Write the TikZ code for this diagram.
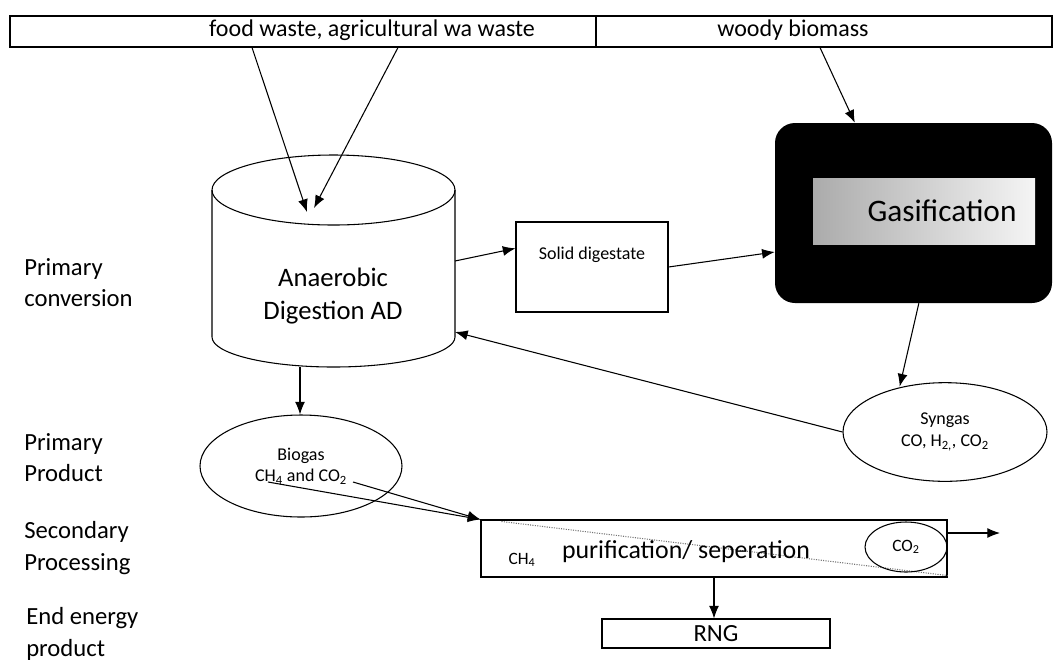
\documentclass[tikz,border=0pt]{standalone}
\usepackage{fontspec}
\setmainfont{Carlito}
\usetikzlibrary{arrows.meta,shapes.geometric}

\begin{document}
\begin{tikzpicture}[x=0.75pt,y=-0.75pt]
      \tikzstyle{flow} = [thick,-{Latex[length=9.5pt,width=7.5pt]},draw=black]
      \tikzstyle{box} = [draw=black,thick,rectangle,inner sep=0pt]
      \tikzstyle{gasnode} = [draw=black,thick,ellipse,inner sep=0pt,align=center,font=\fontsize{13.5}{16}\selectfont]
      \tikzstyle{side} = [anchor=west,align=left,inner sep=0pt,font=\fontsize{18.5}{23.5}\selectfont]
      \tikzstyle{small} = [inner sep=0pt,font=\fontsize{13.5}{16}\selectfont]
      \useasboundingbox (0,0) rectangle (1053,662);

      % feedstock bar
      \node[box,minimum width=439.5pt,minimum height=23.25pt] (feedA) at (303,31.5) {};
      \node[box,minimum width=342pt,minimum height=23.25pt] (feedB) at (824,31.5) {};
      \node[font=\fontsize{18}{22}\selectfont] (foodtxt) at (372,30) {food waste, agricultural wa waste};
      \node[font=\fontsize{18}{22}\selectfont] (woodtxt) at (793,30) {woody biomass};

      % stage labels
      \node[side] (lblconv) at (24,282.5) {Primary\\conversion};
      \node[side] (lblprod) at (24,457.5) {Primary\\Product};
      \node[side] (lblsec) at (24,548) {Secondary\\Processing};
      \node[side] (lblend) at (26,634) {End energy\\product};

      % digester
      \draw[thick] (212,190) -- (212,337) arc[start angle=180,end angle=360,x radius=91.125pt,y radius=22.5pt] -- (455,190);
      \draw[thick] (333.5,190) ellipse [x radius=91.125pt,y radius=26.25pt];
      \node[align=center,font=\fontsize{20}{25}\selectfont] (ad) at (333,296) {Anaerobic\\Digestion AD};
      \coordinate (adinA) at (307,212);
      \coordinate (adinB) at (314,208);
      \coordinate (adR) at (455,261);
      \coordinate (adR2) at (455,332);
      \coordinate (adB) at (300,367);

      \node[box,minimum width=114pt,minimum height=67.5pt] (dig) at (592,267) {};
      \node[small] (digtxt) at (592,255) {Solid digestate};

      % gasifier
      \node[fill=black,rounded corners=15pt,minimum width=207.75pt,minimum height=135pt,inner sep=0pt] (gasbox) at (913.5,213) {};
      \node[left color=black!33,right color=black!4,minimum width=166.5pt,minimum height=49.5pt,inner sep=0pt] (gasfill) at (924,211) {};
      \node[font=\fontsize{23.5}{28}\selectfont] (gastxt) at (942,211) {Gasification};

      \node[gasnode,minimum width=153pt,minimum height=74pt] (syn) at (945,432) {Syngas\\CO, H\textsubscript{2,}, CO\textsubscript{2}};
      \node[gasnode,minimum width=151.5pt,minimum height=76.5pt] (bio) at (301,466) {Biogas\\CH\textsubscript{4} and CO\textsubscript{2}};
      \coordinate (bioA) at (268,482);
      \coordinate (bioB) at (353,482);

      % upgrading
      \node[box,minimum width=349.5pt,minimum height=42.75pt] (puri) at (714,548.5) {};
      \draw[black!55,densely dotted,line width=0.8pt] ([xshift=15.75pt,yshift=-1.5pt]puri.north west) -- ([yshift=1.5pt]puri.south east);
      \node[font=\fontsize{19.4}{23}\selectfont] (puritxt) at (686,552) {purification/ seperation};
      \node[small,font=\fontsize{13}{15}\selectfont] (ch4) at (522,560) {CH\textsubscript{4}};
      \node[gasnode,font=\fontsize{13}{15}\selectfont,minimum width=61.5pt,minimum height=37.5pt] (co2) at (906,547) {CO\textsubscript{2}};
      \coordinate (co2out) at (1000,533);

      \node[box,minimum width=171pt,minimum height=21.75pt,font=\fontsize{18.5}{22}\selectfont] (rng) at (716,633.5) {RNG};

      % connections
      \draw[flow] ([xshift=-38.25pt]feedA.south) -- (adinA);
      \draw[flow] ([xshift=71.25pt]feedA.south) -- (adinB);
      \draw[flow] ([xshift=-3pt]feedB.south) -- ([xshift=-44pt]gasbox.north);
      \draw[flow] (adR) -- ([yshift=14pt]dig.west);
      \draw[flow] (dig.east) -- ([yshift=-29.25pt]gasbox.west);
      \draw[flow] ([xshift=4pt]gasbox.south) -- ([xshift=-34pt,yshift=-3.3pt]syn.north);
      \draw[flow] (syn.west) -- (adR2);
      \draw[flow] (adB) -- (adB |- bio.north);
      \draw[flow] (bioA) -- (puri.north west);
      \draw[flow] (bioB) -- (puri.north west);
      \draw[flow] (puri.south) -- (puri.south |- rng.north);
      \draw[flow] ([yshift=10.5pt]co2.east) -- (co2out);
    \end{tikzpicture}
\end{document}
